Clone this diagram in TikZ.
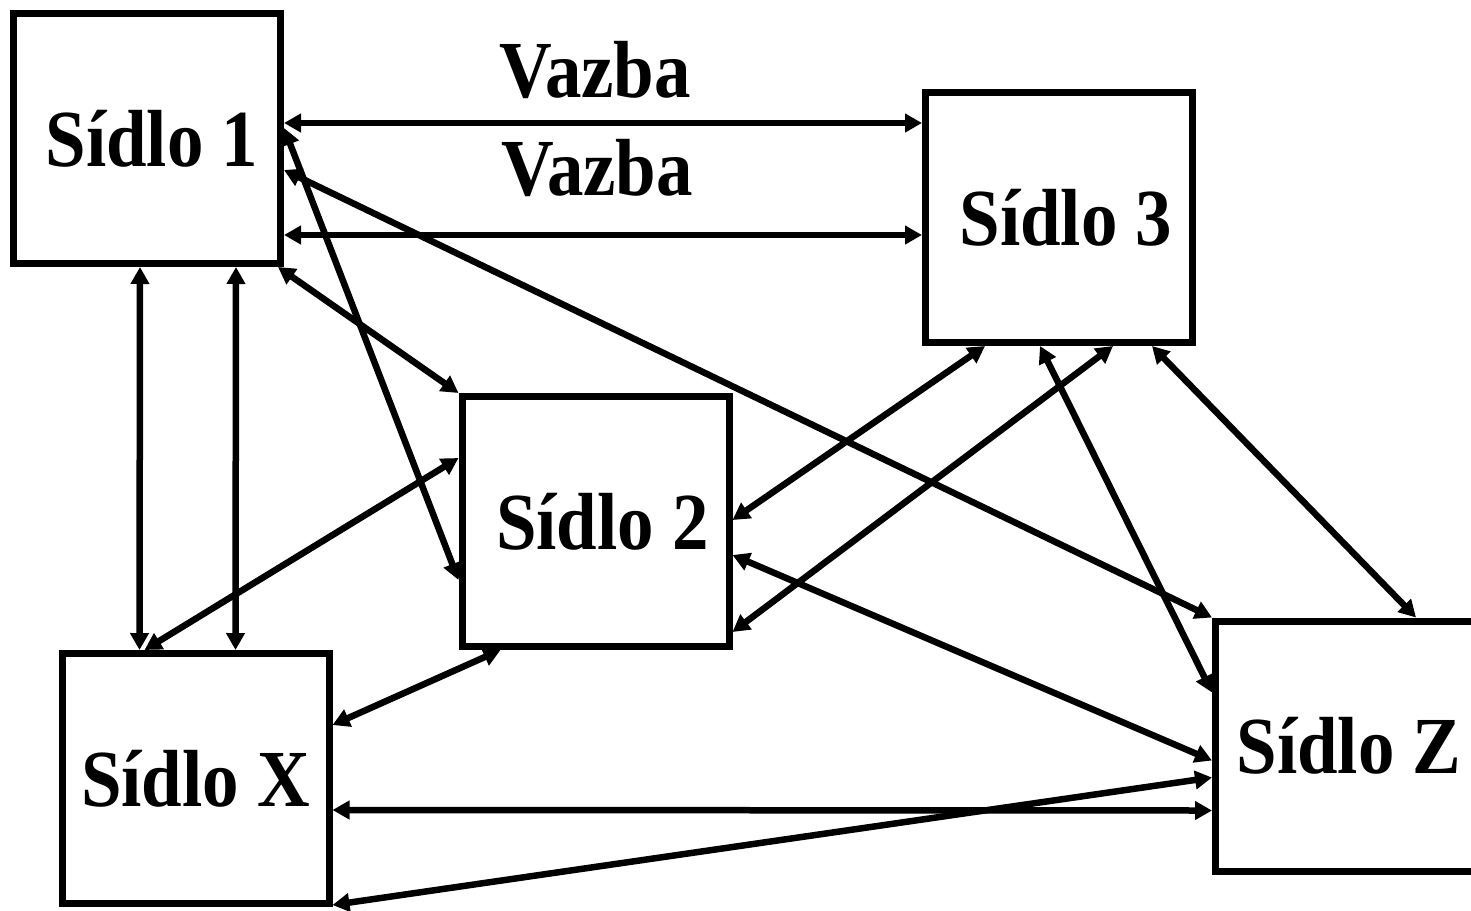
\documentclass[tikz,border=0pt]{standalone}
\usepackage{fontspec}
\setmainfont{Liberation Serif}[FakeStretch=0.9]
\usepackage{tikz}
\usetikzlibrary{calc}
\usetikzlibrary{arrows.meta}
\newcommand{\sidlo}[4]{ \node[sidlobox] (#1) at ( #2 , #3 ) {#4};}
\newcommand{\vazba}[2]{ \draw[link] (#1) -- (#2);}

\begin{document}
\begin{tikzpicture}[x=1pt, y=-1pt,
    sidlobox/.style={draw, line width=7pt, minimum width=267pt, minimum height=250pt,
      inner sep=0pt, font=\bfseries\fontsize{81}{81}\selectfont},
    link/.style={line width=6.5pt, {Triangle[length=17pt,width=18pt]}-{Triangle[length=17pt,width=18pt]}},
    lbl/.style={font=\bfseries\fontsize{81}{81}\selectfont, inner sep=0pt}]
        \useasboundingbox (0,0) rectangle (1471,910);
        \clip (0,0) rectangle (1471,910);

        \sidlo{s1}{147}{138.5}{\hspace{10pt}Sídlo 1}
        \sidlo{s3}{1059}{217.5}{\hspace{14pt}Sídlo 3}
        \sidlo{s2}{595.5}{521.5}{\hspace{14pt}Sídlo 2}
        \sidlo{sx}{195.5}{778.5}{Sídlo X}
        \sidlo{sz}{1349}{746}{Sídlo Z}

        \node[lbl] (v1) at (595,70) {Vazba};
        \node[lbl] (v2) at (597,168) {Vazba};

        % from Sidlo 1
        \vazba{$(s1.north east)+(0,113)$}{$(s3.north west)+(0,34)$}
        \vazba{$(s1.north east)+(0,225)$}{$(s3.north west)+(0,146)$}
        \vazba{$(s1.north east)+(0,160)$}{sz.north west}
        \vazba{$(s1.north east)+(0,118)$}{$(s2.north west)+(0,187)$}
        \vazba{$(s1.south east)+(-6,0)$}{s2.north west}
        \vazba{$(s1.south west)+(130,0)$}{$(sx.north west)+(81,0)$}
        \vazba{$(s1.south west)+(226,0)$}{$(sx.north west)+(177,0)$}

        % from Sidlo 3
        \vazba{$(s3.south west)+(63,0)$}{$(s2.north east)+(0,127)$}
        \vazba{$(s3.south west)+(191,0)$}{$(s2.north east)+(0,239)$}
        \vazba{$(s3.south west)+(118,0)$}{$(sz.north west)+(0,75)$}
        \vazba{$(s3.south west)+(230,0)$}{$(sz.north west)+(204,0)$}

        % Sidlo 2, X, Z
        \vazba{$(sx.north west)+(86,0)$}{$(s2.north west)+(0,65)$}
        \vazba{$(s2.north east)+(0,162)$}{$(sz.north west)+(0,143)$}
        \vazba{$(s2.south west)+(42,0)$}{$(sx.north east)+(0,75)$}
        \vazba{$(sx.north east)+(0,160)$}{$(sz.north west)+(0,193)$}
        \vazba{$(sx.south east)+(0,-2)$}{$(sz.north west)+(0,160)$}
    \end{tikzpicture}
\end{document}
